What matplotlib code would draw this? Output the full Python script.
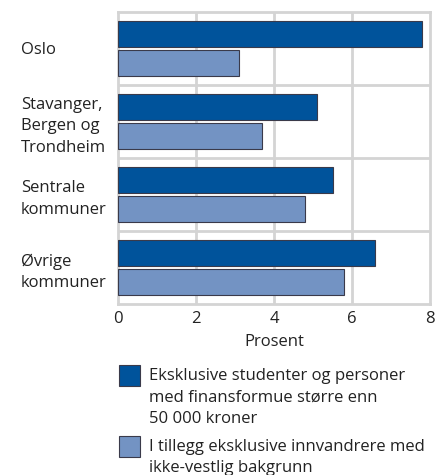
import matplotlib
matplotlib.use("Agg")
import matplotlib.pyplot as plt
from matplotlib.patches import Rectangle
import numpy as np

plt.rcParams['font.family'] = ['Open Sans', 'DejaVu Sans']

categories = ["Oslo", "Stavanger,\nBergen og\nTrondheim", "Sentrale\nkommuner", "Øvrige\nkommuner"]
series1 = [7.8, 5.1, 5.5, 6.6]
series2 = [3.1, 3.7, 4.8, 5.8]
series_labels = ["Eksklusive studenter og personer\nmed finansformue større enn\n50 000 kroner",
                 "I tillegg eksklusive innvandrere med\nikke-vestlig bakgrunn"]
xticks = [0, 2, 4, 6, 8]
xlabel = "Prosent"

c1 = "#00539b"
c2 = "#7393c3"
edge = "#3a3a4a"
grid = "#d4d4d4"
txt = "#222222"
fs = 12

W, H = 436, 475
fig = plt.figure(figsize=(W/100, H/100), dpi=100)
ax = fig.add_axes([118/W, 1-304/H, 312/W, 292/H])

y = np.arange(len(categories))
h = 0.356
off = 0.2
ax.barh(y - off, series1, height=h, color=c1, edgecolor=edge, linewidth=0.8, zorder=3)
ax.barh(y + off, series2, height=h, color=c2, edgecolor=edge, linewidth=0.8, zorder=3)

ax.set_ylim(len(categories) - 0.5, -0.5)
ax.set_xlim(0, 8)
ax.set_xticks(xticks)
ax.set_xticklabels([str(t) for t in xticks], fontsize=fs, color=txt)
ax.set_yticks(y)
ax.set_yticklabels(categories, fontsize=fs, color=txt, ha="left", linespacing=1.45)
ax.tick_params(axis='y', length=0, pad=(118-21)*0.72)
ax.tick_params(axis='x', length=0, pad=5)
for b in np.arange(0.5, len(categories) - 0.5, 1):
    ax.axhline(b, color=grid, lw=2, zorder=1)
for t in xticks[1:-1]:
    ax.axvline(t, color=grid, lw=2, zorder=1)
for s in ax.spines.values():
    s.set_color(grid)
    s.set_linewidth(2)
ax.set_xlabel(xlabel, fontsize=fs, color=txt, labelpad=5)

# legend
colors = [c1, c2]
tops = [365, 436]
for col, top, lab in zip(colors, tops, series_labels):
    fig.patches.append(Rectangle((119/W, 1-(top+21)/H), 21/W, 21/H, transform=fig.transFigure,
                                 facecolor=col, edgecolor=edge, linewidth=0.8))
    fig.text(149/W, 1-(top+3)/H, lab, fontsize=fs, color=txt, va="top", ha="left",
             linespacing=1.45)

fig.savefig("out.png", dpi=100)
